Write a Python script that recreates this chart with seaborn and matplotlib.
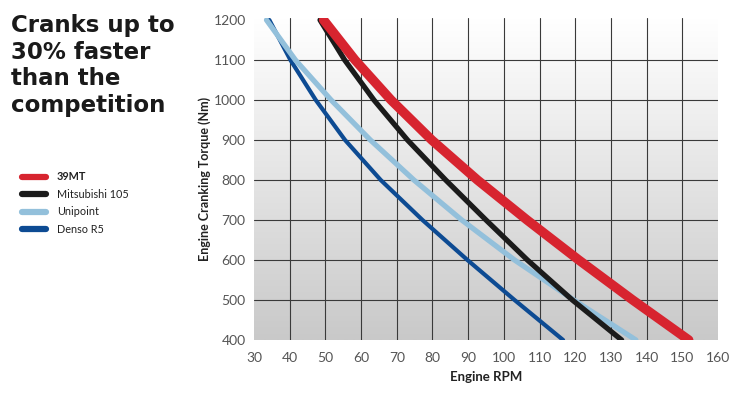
import numpy as np
import pandas as pd
import seaborn as sns
import matplotlib.pyplot as plt
from matplotlib.lines import Line2D
from matplotlib.colors import LinearSegmentedColormap

# values (torque in Nm, engine rpm)
torque = [1200, 1100, 1000, 900, 800, 700, 600, 500, 400]
rpm_39mt = [49.5, 58.3, 68.4, 79.8, 92.6, 106.5, 121.0, 136.1, 151.8]
rpm_mitsubishi = [48.5, 55.4, 63.6, 73.0, 83.7, 95.0, 106.6, 119.2, 133.0]
rpm_unipoint = [33.5, 41.6, 51.6, 62.6, 74.8, 88.2, 103.0, 119.6, 137.0]
rpm_denso = [34.3, 40.2, 47.3, 55.5, 65.5, 77.2, 89.8, 103.0, 116.6]

names = ['39MT', 'Mitsubishi 105', 'Unipoint', 'Denso R5']
colors = ['#d7242f', '#1b1b1b', '#93c0db', '#0d4b93']
widths = [6.8, 3.8, 3.8, 3.0]

xticks = list(range(30, 161, 10))
yticks = list(range(400, 1201, 100))

df = pd.concat([
    pd.DataFrame({'rpm': r, 'torque': torque, 'starter': n})
    for r, n in zip([rpm_39mt, rpm_mitsubishi, rpm_unipoint, rpm_denso], names)
])

sns.set_style('white')
plt.rcParams['font.family'] = ['Lato', 'DejaVu Sans']

fig = plt.figure(figsize=(7.48, 3.98), dpi=100)
ax = fig.add_axes([254 / 748, 1 - 340 / 398, 464 / 748, 322 / 398])

# grey background fading to white at the top
grad = np.linspace(0, 1, 256).reshape(-1, 1)
cmap = LinearSegmentedColormap.from_list('bg', ['#ffffff', '#c9c9c9'])
ax.imshow(grad, extent=[30, 160, 400, 1205], origin='upper', aspect='auto',
          cmap=cmap, zorder=0)

# draw the back ones first so red sits on top
for n, c, w in list(zip(names, colors, widths))[::-1]:
    sns.lineplot(data=df[df['starter'] == n], x='rpm', y='torque', color=c, lw=w,
                 sort=False, estimator=None, ax=ax, zorder=3,
                 solid_capstyle='round', solid_joinstyle='round')

ax.set_xlim(30, 160)
ax.set_ylim(400, 1205)
ax.set_xticks(xticks)
ax.set_yticks(yticks)
ax.grid(True, color='#3a3a3a', lw=0.8, zorder=1)
ax.set_axisbelow(True)
for gl, t in zip(ax.get_xgridlines(), xticks):
    if t in (30, 160):
        gl.set_visible(False)
for gl, t in zip(ax.get_ygridlines(), yticks):
    if t in (400, 1200):
        gl.set_visible(False)
for s in ax.spines.values():
    s.set_visible(False)
ax.tick_params(length=0, labelsize=10, labelcolor='#555555')
ax.tick_params(axis='x', pad=9)
ax.tick_params(axis='y', pad=6)

ax.set_xlabel('Engine RPM', fontsize=9.5, fontweight='bold', color='#222222')
ax.set_ylabel('Engine Cranking Torque (Nm)', fontsize=9, fontweight='bold', color='#222222')
ax.xaxis.set_label_coords(0.5, -0.095)
ax.yaxis.set_label_coords(-0.093, 0.5)

fig.text(11 / 748, 1 - 14 / 398, 'Cranks up to\n30% faster\nthan the\ncompetition',
         fontsize=16.5, fontweight='bold', color='#1a1a1a', va='top', ha='left',
         linespacing=1.2, family='DejaVu Sans')

handles = [Line2D([0], [0], color=c, lw=4.5, solid_capstyle='round') for c in colors]
leg = fig.legend(handles, names, loc='upper left', bbox_to_anchor=(17 / 748, 1 - 166 / 398),
                 frameon=False, fontsize=7.8, handlelength=2.2, handletextpad=1.0,
                 labelspacing=0.6, borderpad=0)
leg.get_texts()[0].set_fontweight('bold')
for t in leg.get_texts():
    t.set_color('#222222')

fig.savefig('out.png', dpi=100)
